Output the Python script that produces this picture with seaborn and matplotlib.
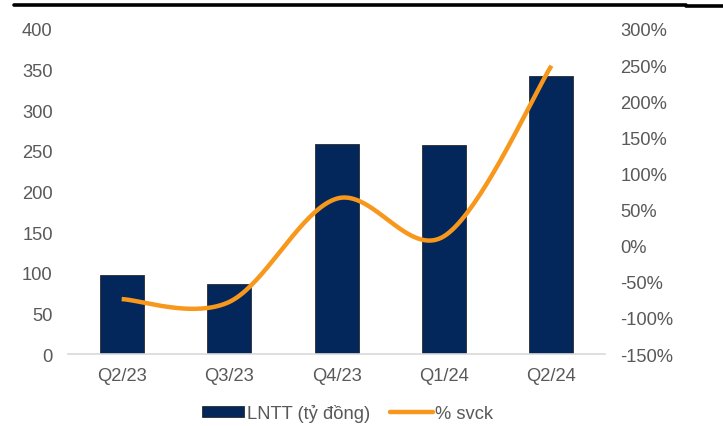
import numpy as np
import pandas as pd
import matplotlib
matplotlib.use("Agg")
import matplotlib.pyplot as plt
from matplotlib.patches import Patch
from matplotlib.lines import Line2D
import seaborn as sns

quarters = ["Q2/23", "Q3/23", "Q4/23", "Q1/24", "Q2/24"]
lntt = [97, 86, 258, 257, 342]          # LNTT (tỷ đồng)
svck = [-74, -78, 65, 13, 249]          # % svck

left_ticks = [0, 50, 100, 150, 200, 250, 300, 350, 400]
right_ticks = [-150, -100, -50, 0, 50, 100, 150, 200, 250, 300]

NAVY = "#03275B"
ORANGE = "#F7981D"
TICK = "#595959"
FS = 13.2

sns.set_theme(style="white")
plt.rcParams["font.family"] = ["Liberation Sans", "DejaVu Sans"]

fig = plt.figure(figsize=(7.23, 4.27), dpi=100)
ax = fig.add_axes([0.094, 0.1686, 0.743, 0.7614])

df = pd.DataFrame({"quarter": quarters, "lntt": lntt})
sns.barplot(data=df, x="quarter", y="lntt", color=NAVY, width=0.41,
            edgecolor="#2b2b2b", linewidth=0.6, saturation=1, ax=ax)
ax.set_ylim(0, 400)
ax.set_xlim(-0.5, len(quarters) - 0.5)
ax.set_yticks(left_ticks)
ax.set_xlabel("")
ax.set_ylabel("")
for s in ["top", "right", "left"]:
    ax.spines[s].set_visible(False)
ax.spines["bottom"].set_color("#d9d9d9")
ax.spines["bottom"].set_linewidth(1.2)
ax.tick_params(axis="both", length=0, colors=TICK, labelsize=FS)
ax.tick_params(axis="x", pad=9)
ax.tick_params(axis="y", pad=11)

# Smoothed growth line (cardinal spline through the quarterly points)
ax2 = ax.twinx()
x = np.arange(len(svck), dtype=float)
y = np.array(svck, dtype=float)
px = np.concatenate([[x[0]], x, [x[-1]]])
py = np.concatenate([[y[0]], y, [y[-1]]])
t = np.linspace(0, 1, 40)
cx, cy = [], []
for i in range(len(x) - 1):
    p0 = np.array([px[i], py[i]])
    p1 = np.array([px[i + 1], py[i + 1]])
    p2 = np.array([px[i + 2], py[i + 2]])
    p3 = np.array([px[i + 3], py[i + 3]])
    c1 = p1 + (p2 - p0) / 6
    c2 = p2 - (p3 - p1) / 6
    b = ((1 - t) ** 3)[:, None] * p1 + (3 * (1 - t) ** 2 * t)[:, None] * c1 \
        + (3 * (1 - t) * t ** 2)[:, None] * c2 + (t ** 3)[:, None] * p2
    cx.extend(b[:, 0])
    cy.extend(b[:, 1])
sns.lineplot(x=cx, y=cy, color=ORANGE, linewidth=3.2, sort=False,
             estimator=None, ax=ax2, solid_capstyle="butt")
ax2.set_ylim(-150, 300)
ax2.set_yticks(right_ticks)
ax2.set_yticklabels([f"{v}%" for v in right_ticks])
for s in ["top", "right", "left", "bottom"]:
    ax2.spines[s].set_visible(False)
ax2.tick_params(axis="y", length=0, colors=TICK, labelsize=FS, pad=11)
ax.set_xlim(-0.5, len(quarters) - 0.5)

# Header rule
fig.add_artist(Line2D([0.019, 0.949], [0.985, 0.985], color="black",
                      linewidth=2.6, transform=fig.transFigure))
fig.add_artist(Line2D([0.949, 1.0], [0.983, 0.983], color="black",
                      linewidth=2.6, transform=fig.transFigure))

handles = [Patch(facecolor=NAVY, edgecolor="#2b2b2b", linewidth=0.6),
           Line2D([0], [0], color=ORANGE, linewidth=3.2)]
fig.legend(handles, ["LNTT (tỷ đồng)", "% svck"], loc="center",
           bbox_to_anchor=(0.481, 0.03), ncol=2, frameon=False,
           fontsize=FS, handlelength=2.3, handleheight=0.55,
           handletextpad=0.15, columnspacing=1.1, labelcolor=TICK)

fig.savefig("out.png", dpi=100, facecolor="white")
